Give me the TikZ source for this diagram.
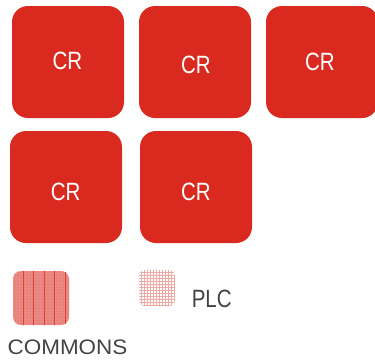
\documentclass[tikz,border=0pt]{standalone}
\usepackage{graphicx}
\usepackage{fontspec}
\setmainfont{Liberation Sans}
\usetikzlibrary{patterns}
\definecolor{crred}{HTML}{DA2A1F}
\definecolor{legtext}{HTML}{444444}
\begin{document}
\begin{tikzpicture}[x=1pt,y=-1pt,
  crbox/.style={fill=crred, draw=none, rounded corners=16pt, minimum width=112pt, minimum height=112pt, inner sep=0pt},
  crlabel/.style={text=white, font=\fontsize{25}{25}\selectfont, anchor=base, inner sep=0pt},
  legtxt/.style={text=legtext, anchor=base, inner sep=0pt}]
\useasboundingbox (0,0) rectangle (375,362);
\begin{scope}
\clip (0,0) rectangle (375,362);
\node[crbox] (b1) at (68,62) {};
\node[crbox] (b2) at (195,62) {};
\node[crbox] (b3) at (322,62) {};
\node[crbox] (b4) at (66,187) {};
\node[crbox] (b5) at (196,187) {};
\node[crlabel] (t1) at (67.5,69.5) {\scalebox{0.82}[1]{CR}};
\node[crlabel] (t2) at (196,73.3) {\scalebox{0.82}[1]{CR}};
\node[crlabel] (t3) at (320,70) {\scalebox{0.82}[1]{CR}};
\node[crlabel] (t4) at (65.7,200) {\scalebox{0.82}[1]{CR}};
\node[crlabel] (t5) at (196,200) {\scalebox{0.82}[1]{CR}};
\end{scope}
% legend swatches
\node[fill=crred!55, rounded corners=8pt, minimum width=56pt, minimum height=54pt, inner sep=0pt] (cmsw) at (41,298) {};
\begin{scope}
\clip[rounded corners=8pt] (cmsw.south west) rectangle (cmsw.north east);
\fill[pattern=dots, pattern color=crred!85] (cmsw.south west) rectangle (cmsw.north east);
\foreach \xx in {23,33.5,44,54.5,65}
  \draw[crred!90, line width=0.9pt] (\xx,270) -- (\xx,326);
\end{scope}
\node[pattern=grid, pattern color=crred!40, rounded corners=6pt, minimum width=36pt, minimum height=36pt, inner sep=0pt] (plcsw) at (157,288) {};
\node[legtxt, font=\fontsize{25}{25}\selectfont] (plc) at (211.7,307) {\scalebox{0.82}[1]{PLC}};
\node[legtxt, font=\fontsize{21}{21}\selectfont] (cm) at (67.5,354.3) {\scalebox{1.07}[1]{COMMONS}};
\end{tikzpicture}
\end{document}
